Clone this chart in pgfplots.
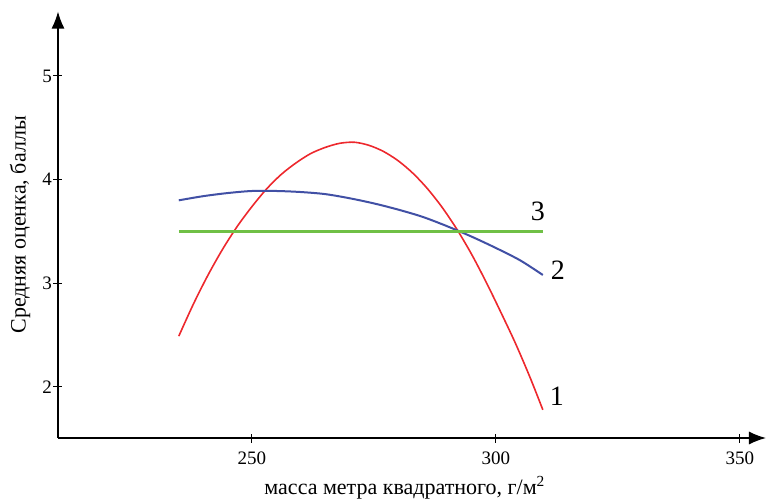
\documentclass[border=0pt]{standalone}
\usepackage{fontspec}
\setmainfont{Liberation Serif}
\usepackage{pgfplots}
\pgfplotsset{compat=1.18}
\usetikzlibrary{arrows.meta}
\definecolor{cred}{RGB}{237,40,45}
\definecolor{cblue}{RGB}{65,80,165}
\definecolor{cgreen}{RGB}{112,192,70}
\begin{document}
\begin{tikzpicture}
\begin{axis}[
  x=2.44pt, y=51.85pt,
  xmin=210.25, xmax=355.33,
  ymin=1.508, ymax=5.62,
  axis lines=left,
  axis line style={line width=0.65pt, -{Latex[length=8.5pt,width=6.5pt]}},
  xtick={250,300,350},
  ytick={2,3,4,5},
  tick align=center,
  major tick length=4.5pt,
  tick style={black, line width=0.5pt},
  /pgf/number format/assume math mode=true,
  /pgf/number format/set thousands separator={},
  tick label style={font=\rmfamily\fontsize{9.5}{11}\selectfont},
  xticklabel style={yshift=-1pt},
  yticklabel style={inner sep=0.6pt},
  xlabel={масса метра квадратного, г/м\textsuperscript{2}},
  ylabel={Средняя оценка, баллы},
  label style={font=\fontsize{11}{13}\selectfont},
  xlabel style={at={(axis description cs:0.49,0)}, anchor=center, yshift=-25pt},
  ylabel style={at={(axis description cs:0,0.5)}, anchor=center, rotate=0, xshift=0pt, yshift=19pt},
  clip=false,
]
\addplot[cred, line width=0.8pt, smooth] coordinates {
(235,2.49) (238,2.80) (241,3.08) (244,3.33) (247,3.55) (250,3.74) (253,3.91)
(256,4.05) (259,4.16) (262,4.25) (265,4.31) (268,4.35) (271,4.36) (274,4.33)
(277,4.27) (280,4.18) (283,4.06) (286,3.91) (289,3.73) (292,3.52) (295,3.28)
(298,3.01) (301,2.72) (304,2.42) (307,2.09) (309.6,1.78)
};
\addplot[cblue, line width=1pt, smooth] coordinates {
(235,3.80) (240,3.84) (245,3.87) (250,3.89) (255,3.89) (260,3.88) (265,3.86)
(270,3.82) (275,3.77) (280,3.71) (285,3.64) (290,3.55) (295,3.45) (300,3.34)
(305,3.22) (309.6,3.08)
};
\addplot[cgreen, line width=1.2pt] coordinates {(235,3.5) (309.6,3.5)};
\node[font=\fontsize{14}{16}\selectfont] at (axis cs:308.6,3.69) {3};
\node[font=\fontsize{14}{16}\selectfont] at (axis cs:312.7,3.13) {2};
\node[font=\fontsize{14}{16}\selectfont] at (axis cs:312.5,1.91) {1};
\end{axis}
\pgfresetboundingbox
\path ([xshift=-29pt,yshift=-30.5pt]current axis.south west) rectangle ([xshift=354pt,yshift=219pt]current axis.south west);
\end{tikzpicture}
\end{document}
